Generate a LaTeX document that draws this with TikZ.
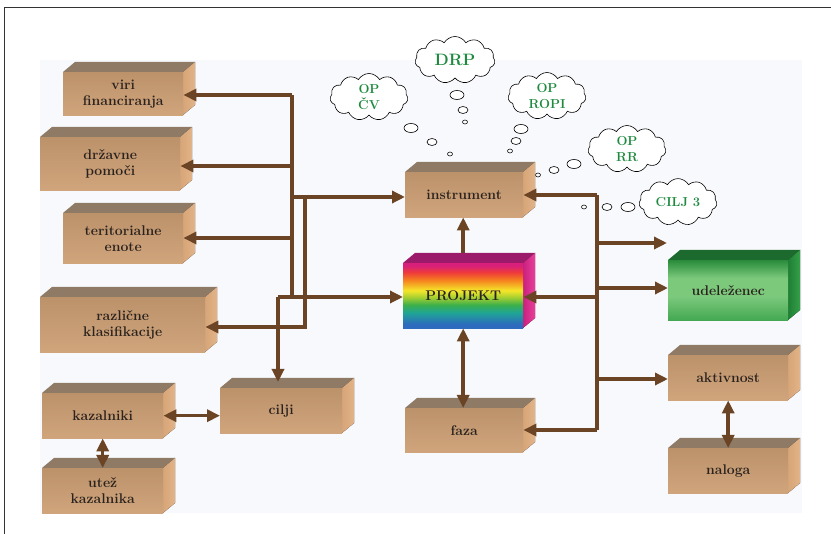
\documentclass[tikz,border=0pt]{standalone}
\usepackage{fontspec}
\usetikzlibrary{shapes.symbols,arrows.meta}

% palette
\definecolor{panel}{HTML}{F8F9FC}
\definecolor{frameline}{HTML}{333333}
\definecolor{tanTop}{HTML}{8F7A66}
\definecolor{tanA}{HTML}{BC926B}
\definecolor{tanB}{HTML}{D0A57C}
\definecolor{tanSideA}{HTML}{D6A578}
\definecolor{tanSideB}{HTML}{E2B488}
\definecolor{wire}{HTML}{6B4425}
\definecolor{ink}{HTML}{2A221E}
\definecolor{cloudgreen}{HTML}{1E8A3E}
% rainbow front of the project box
\definecolor{rbBlue}{HTML}{2C6BBE}
\definecolor{rbTeal}{HTML}{1FA595}
\definecolor{rbGreen}{HTML}{3DB04A}
\definecolor{rbLime}{HTML}{A8D030}
\definecolor{rbYellow}{HTML}{F5E62A}
\definecolor{rbOrange}{HTML}{F5821F}
\definecolor{rbRed}{HTML}{EE3A3A}
\definecolor{rbMagenta}{HTML}{D8207A}
\definecolor{rbTop}{HTML}{9C1A6A}
\definecolor{rbSideA}{HTML}{C8207E}
\definecolor{rbSideB}{HTML}{E8409A}
% green participant box
\definecolor{grDark}{HTML}{2A8C3C}
\definecolor{grLight}{HTML}{7CC97C}
\definecolor{grLow}{HTML}{44A852}
\definecolor{grTop}{HTML}{1D6A2E}
\definecolor{grSideA}{HTML}{1F7E34}
\definecolor{grSideB}{HTML}{34A048}

\pgfdeclareverticalshading{rainbow}{100bp}{%
  color(0bp)=(rbBlue); color(28bp)=(rbBlue); color(37bp)=(rbTeal);
  color(43bp)=(rbGreen); color(49bp)=(rbLime); color(54bp)=(rbYellow);
  color(62bp)=(rbOrange); color(68bp)=(rbRed); color(73bp)=(rbMagenta);
  color(100bp)=(rbMagenta)}
\pgfdeclareverticalshading{greenface}{100bp}{%
  color(0bp)=(grLow); color(25bp)=(grLow); color(45bp)=(grLight);
  color(60bp)=(grLight); color(75bp)=(grDark); color(100bp)=(grDark)}

% a block: name, front style, top style, side style, x1, y1, x2, y2, label
\newcommand\block[9]{%
  \fill[#3] (#5,#6) -- (#5+12,#6-10) -- (#7+12,#6-10) -- (#7,#6) -- cycle;
  \fill[#4] (#7,#6) -- (#7+12,#6-10) -- (#7+12,#8-10) -- (#7,#8) -- cycle;
  \node[#2, minimum width={#7pt-#5pt}, minimum height={#8pt-#6pt},
        anchor=north west] (#1) at (#5,#6) {#9};
}

\begin{document}
\begin{tikzpicture}[x=1pt,y=-1pt,
  label font/.style={font=\bfseries\fontsize{14}{16}\selectfont},
  front/.style={inner sep=0pt, align=center, text=ink, label font,
    top color=tanA, bottom color=tanB},
  tantop/.style={fill=tanTop},
  tanside/.style={left color=tanSideA, right color=tanSideB},
  rainfront/.style={inner sep=0pt, align=center, text=ink, label font,
    shading=rainbow},
  raintop/.style={fill=rbTop},
  rainside/.style={left color=rbSideA, right color=rbSideB},
  greenfront/.style={inner sep=0pt, align=center, text=ink, label font,
    shading=greenface},
  greentop/.style={fill=grTop},
  greenside/.style={left color=grSideA, right color=grSideB},
  conn/.style={draw=wire, line width=3.5pt},
  tip/.style={-{Triangle[length=13pt,width=12pt]}},
  tips/.style={{Triangle[length=13pt,width=12pt]}-{Triangle[length=13pt,width=12pt]}},
  thought/.style={cloud, cloud puffs=11, cloud puff arc=120, aspect=1.7,
    draw=black, line width=0.6pt, fill=white, inner sep=0.5pt,
    minimum width=78pt, minimum height=47pt, align=center, text=cloudgreen,
    font=\bfseries\fontsize{13}{15.5}\selectfont},
  bubble/.style={draw=black, line width=0.6pt, fill=white}
]
\useasboundingbox (0,0) rectangle (831,534);
\fill[white] (0,0) rectangle (831,534);
\fill[panel] (40,60) rectangle (802,513);
\draw[frameline, line width=0.8pt] (4,534) -- (4,7) -- (831,7);

% thought clouds and their trails
\node[thought, minimum width=80pt, font=\bfseries\fontsize{16.5}{18}\selectfont] (drp) at (455,60) {DRP};
\node[thought] (opcv) at (369,97) {OP\\ČV};
\node[thought] (opropi) at (547,96) {OP\\ROPI};
\node[thought] (oprr) at (627,149) {OP\\RR};
\node[thought, minimum height=45pt] (cilj3) at (678,202) {CILJ 3};

\path[bubble] (457,95) ellipse [x radius=7, y radius=4.5]
  (463,110) ellipse [x radius=5, y radius=3.5] (465,122) ellipse [x radius=2.5, y radius=2];
\path[bubble] (411,128) ellipse [x radius=7, y radius=4.5]
  (432,142) ellipse [x radius=5, y radius=3.5] (450,154) ellipse [x radius=2.5, y radius=2];
\path[bubble] (521,129) ellipse [x radius=7, y radius=4.5]
  (516,141) ellipse [x radius=5, y radius=3.5] (510,151) ellipse [x radius=2.5, y radius=2];
\path[bubble] (574,164) ellipse [x radius=7, y radius=4.5]
  (554,170) ellipse [x radius=5, y radius=3.5] (538,175) ellipse [x radius=2.5, y radius=2];
\path[bubble] (628,207) ellipse [x radius=7, y radius=4.5]
  (607,207) ellipse [x radius=5, y radius=3.5] (584,207) ellipse [x radius=2.5, y radius=2];

% blocks
\block{viri}{front}{tantop}{tanside}{63}{72}{183}{115}{viri\\financiranja}
\block{drz}{front}{tantop}{tanside}{40}{137}{180}{190}{državne\\pomoči}
\block{ter}{front}{tantop}{tanside}{63}{213}{183}{263}{teritorialne\\enote}
\block{razl}{front}{tantop}{tanside}{40}{297}{205}{352}{različne\\klasifikacije}
\block{kaz}{front}{tantop}{tanside}{42}{393}{163}{438}{kazalniki}
\block{utez}{front}{tantop}{tanside}{42}{468}{163}{513}{utež\\kazalnika}
\block{cilji}{front}{tantop}{tanside}{220}{388}{342}{433}{cilji}
\block{instr}{front}{tantop}{tanside}{405}{172}{523}{217}{instrument}
\block{proj}{rainfront}{raintop}{rainside}{403}{263}{523}{328}{PROJEKT}
\block{faza}{front}{tantop}{tanside}{405}{408}{523}{452}{faza}
\block{ude}{greenfront}{greentop}{greenside}{668}{260}{788}{320}{udeleženec}
\block{akt}{front}{tantop}{tanside}{668}{355}{788}{400}{aktivnost}
\block{nal}{front}{tantop}{tanside}{668}{448}{788}{493}{naloga}

% left distribution lines
\coordinate (a1) at (292,95);
\coordinate (a2) at (292,166);
\coordinate (a3) at (292,238);
\coordinate (a4) at (292,297);
\coordinate (b1) at (292,197);
\coordinate (b0) at (305,197);
\coordinate (b2) at (305,327);
\coordinate (c0) at (278,297);
\draw[conn] (a1) -- (a4);
\draw[conn, tip] (a1) -- (a1 -| viri.east);
\draw[conn, tip] (a2) -- (a2 -| drz.east);
\draw[conn, tip] (a3) -- (a3 -| ter.east);
\draw[conn, tip] (b1) -- (b1 -| instr.west);
\draw[conn, tip] (b0) -- (b2) -- (b2 -| razl.east);
\draw[conn, tip] (c0) -- (c0 -| proj.west);
\draw[conn, tip] (c0) -- ([yshift=6pt]c0 |- cilji.north);

% right distribution lines
\coordinate (d0) at (597,195);
\coordinate (d1) at (597,243);
\coordinate (d2) at (597,288);
\coordinate (d3) at (597,297);
\coordinate (d4) at (597,379);
\coordinate (d5) at (597,430);
\coordinate (e1) at (667,243);
\draw[conn] (d0) -- (d5);
\draw[conn, tip] (d0) -- (d0 -| instr.east);
\draw[conn, tip] (d1) -- (e1);
\draw[conn, tip] (d2) -- (d2 -| ude.west);
\draw[conn, tip] (d3) -- (d3 -| proj.east);
\draw[conn, tip] (d4) -- (d4 -| akt.west);
\draw[conn, tip] (d5) -- (d5 -| faza.east);

% vertical links
\draw[conn, tip] ([yshift=10pt]proj.north) -- (proj.north |- instr.south);
\draw[conn, tips] (proj.south) -- (proj.south |- faza.north);
\draw[conn, tips] (akt.south) -- (akt.south |- nal.north);
\draw[conn, tips] (kaz.south) -- (kaz.south |- utez.north);
\draw[conn, tips] (kaz.east) -- (kaz.east -| cilji.west);
\end{tikzpicture}
\end{document}
